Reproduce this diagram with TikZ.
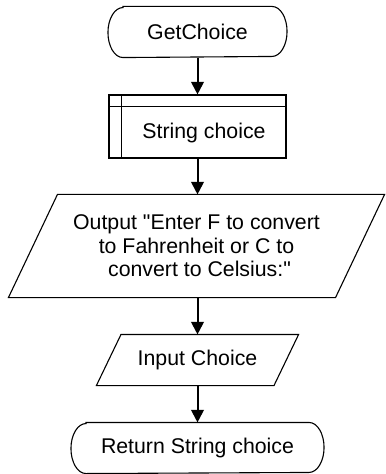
\documentclass[tikz,border=0pt]{standalone}
\usepackage{fontspec}
\setmainfont{Liberation Sans}[Ligatures=TeXOff]
\usetikzlibrary{arrows.meta}

\newcommand{\termframe}[1]{%
  \draw ([xshift=15bp]#1.north west) -- ([xshift=-15bp]#1.north east)
    arc[start angle=90,end angle=-90,x radius=15bp,y radius=25bp]
    -- ([xshift=15bp]#1.south west)
    arc[start angle=270,end angle=90,x radius=15bp,y radius=25bp] -- cycle;}
\newcommand{\ioframe}[2]{%
  \draw ([xshift=#2]#1.north west) -- ([xshift=#2]#1.north east)
    -- ([xshift=-#2]#1.south east) -- ([xshift=-#2]#1.south west) -- cycle;}

\begin{document}
\begin{tikzpicture}[x=1bp,y=-1bp,
  font=\fontsize{21.3bp}{23.5bp}\selectfont,
  line width=1.1bp,
  termbox/.style={minimum height=50bp,inner sep=0pt},
  iobox/.style={inner sep=0pt},
  flow/.style={-{Triangle[length=12.5bp,width=12.5bp]},line width=2bp}]
\useasboundingbox (0,0) rectangle (385,474);

\node[termbox,minimum width=178bp] (start) at (197.5,32) {GetChoice};
\termframe{start}

\node[draw,minimum width=177bp,minimum height=63bp] (var) at (197.5,126.5) {};
\draw ([yshift=-12bp]var.north west) -- ([yshift=-12bp]var.north east);
\draw ([xshift=13bp]var.north west) -- ([xshift=13bp]var.south west);
\node (varname) at (204,132.5) {String choice};

\node[iobox,minimum width=326bp,minimum height=102bp,align=center] (output) at (196.5,246)
  {Output "Enter F to convert\\to Fahrenheit or C to\hspace*{10bp}\\\hspace*{6bp}convert to Celsius:"};
\ioframe{output}{24.5bp}

\node[iobox,minimum width=176.5bp,minimum height=50bp] (input) at (197.5,360) {Input Choice};
\ioframe{input}{12.3bp}

\node[termbox,minimum width=252bp] (return) at (197.5,448) {Return String choice};
\termframe{return}

\draw[flow] (start) -- (var);
\draw[flow] (var.south) -- (var.south |- output.north);
\draw[flow] (var.south |- output.south) -- (input.north);
\draw[flow] (input) -- (return);
\end{tikzpicture}
\end{document}
